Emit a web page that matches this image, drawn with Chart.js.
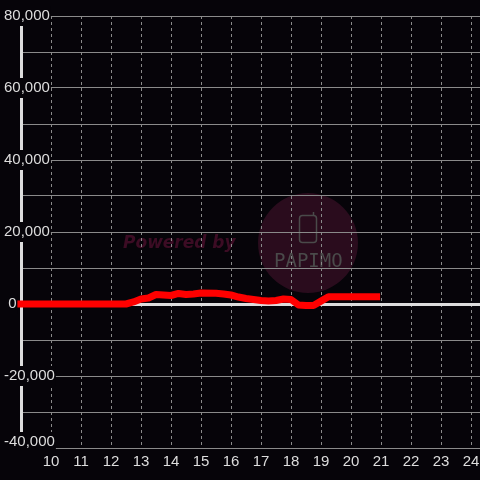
<!DOCTYPE html>
<html>
<head>
<meta charset="UTF-8">
<title>Chart</title>
<script src="https://cdn.jsdelivr.net/npm/chart.js"></script>
<style>
    html, body { margin: 0; padding: 0; background: #060409; }
    #wrap { width: 480px; height: 480px; }
</style>
</head>
<body>
<div id="wrap"><canvas id="chart"></canvas></div>
<script>
    // data
    const hours = [8.88, 12.5, 12.75, 13, 13.25, 13.5, 13.75, 14, 14.25, 14.5, 14.75, 15, 15.5, 15.75, 16, 16.25, 16.5, 16.75, 17, 17.25, 17.5, 17.75, 18, 18.25, 18.5, 18.75, 19, 19.25, 20.97];
    const values = [0, 0, 560, 1390, 1670, 2640, 2500, 2360, 2920, 2640, 2780, 3060, 2970, 2780, 2500, 1940, 1530, 1250, 970, 830, 970, 1390, 1250, -280, -420, -420, 800, 2030, 2030];
    const yTicks = [-40000, -20000, 0, 20000, 40000, 60000, 80000];
    const xTicks = [10, 11, 12, 13, 14, 15, 16, 17, 18, 19, 20, 21, 22, 23, 24];

    const bg = '#060409';
    const labelColor = '#dddddd';
    const tickFont = { family: 'Liberation Sans, Arial', size: 15 };

    // background + watermark
    const backdropPlugin = {
        id: 'backdrop',
        beforeDraw(chart) {
            const c = chart.ctx;
            c.save();
            c.fillStyle = bg;
            c.fillRect(0, 0, chart.width, chart.height);
            // watermark circle
            c.fillStyle = '#2a0c1d';
            c.beginPath();
            c.arc(308, 243, 50, 0, Math.PI * 2);
            c.fill();
            // phone icon
            c.strokeStyle = '#4a4a4a';
            c.lineWidth = 1.5;
            c.beginPath();
            c.roundRect(299.5, 215.5, 17, 27, 3);
            c.stroke();
            c.beginPath();
            c.moveTo(313.5, 215.5);
            c.lineTo(313.5, 212);
            c.stroke();
            c.fillStyle = '#4a4a4a';
            c.font = '19px "DejaVu Sans Mono"';
            c.textAlign = 'left';
            c.textBaseline = 'alphabetic';
            c.fillText('PAPIMO', 274, 267);
            c.fillStyle = '#3c0c24';
            c.font = 'italic bold 17px "DejaVu Sans"';
            c.fillText('Powered by', 123, 248);
            c.restore();
        }
    };

    const bottomTick = yTicks[0];

    new Chart(document.getElementById('chart'), {
        type: 'line',
        data: {
            datasets: [{
                data: hours.map((h, i) => ({ x: h, y: values[i] })),
                yAxisID: 'y',
                borderColor: '#ff0000',
                borderWidth: 7,
                borderJoinStyle: 'round',
                pointRadius: 0,
                tension: 0,
                fill: false,
                clip: false
            }]
        },
        options: {
            responsive: true,
            maintainAspectRatio: false,
            animation: false,
            layout: { padding: { top: 16, left: 4, right: 0, bottom: 0 } },
            plugins: {
                legend: { display: false },
                tooltip: { enabled: false }
            },
            scales: {
                x: {
                    type: 'linear',
                    min: 9,
                    max: 24.3,
                    afterFit(scale) {
                        scale.height = 32;
                        scale.paddingLeft = 0;
                        scale.paddingRight = 0;
                    },
                    afterBuildTicks(scale) {
                        scale.ticks = [9].concat(xTicks).map(v => ({ value: v }));
                    },
                    ticks: {
                        color: labelColor,
                        font: tickFont,
                        padding: 5,
                        maxRotation: 0,
                        autoSkip: false,
                        callback: v => xTicks.includes(v) ? String(v) : ''
                    },
                    grid: {
                        color: '#8a8a8a',
                        lineWidth: 1,
                        drawTicks: false
                    },
                    border: { display: false, dash: [3, 3] }
                },
                y: {
                    min: -40000,
                    max: 80000,
                    afterFit(scale) { scale.width = 17; },
                    ticks: {
                        stepSize: 10000,
                        color: labelColor,
                        font: tickFont,
                        mirror: true,
                        crossAlign: 'near',
                        padding: -17,
                        showLabelBackdrop: ctx => yTicks.includes(ctx.tick.value) && ctx.tick.value !== bottomTick,
                        backdropColor: bg,
                        backdropPadding: 1,
                        callback: v => {
                            if (!yTicks.includes(v) || v === bottomTick) return '';
                            return v === 0 ? ' 0' : v.toLocaleString('en-US');
                        }
                    },
                    grid: {
                        color: ctx => ctx.tick && ctx.tick.value === 0 ? '#dddddd' : '#8a8a8a',
                        lineWidth: ctx => ctx.tick && ctx.tick.value === 0 ? 3 : 1,
                        drawTicks: false
                    },
                    border: { display: true, color: '#dddddd', width: 3 }
                },
                // bottom label only, lifted above its grid line
                y2: {
                    position: 'left',
                    weight: 1,
                    z: 1,
                    min: -40000,
                    max: 80000,
                    afterFit(scale) { scale.width = 0; },
                    ticks: {
                        stepSize: 10000,
                        color: labelColor,
                        font: tickFont,
                        mirror: true,
                        crossAlign: 'near',
                        padding: 0,
                        labelOffset: -6,
                        showLabelBackdrop: ctx => ctx.tick.value === bottomTick,
                        backdropColor: bg,
                        backdropPadding: 1,
                        callback: v => v === bottomTick ? v.toLocaleString('en-US') : ''
                    },
                    grid: { display: false, drawTicks: false },
                    border: { display: false }
                }
            }
        },
        plugins: [backdropPlugin]
    });
</script>
</body>
</html>
